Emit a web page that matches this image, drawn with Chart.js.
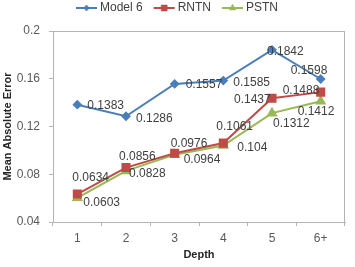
<!DOCTYPE html>
<html>
<head>
<meta charset="utf-8">
<script src="https://cdn.jsdelivr.net/npm/chart.js@4/dist/chart.umd.min.js"></script>
<style>
html,body{margin:0;padding:0;background:#fff;}
#wrap{width:355px;height:267px;}
</style>
</head>
<body>
<div id="wrap"><canvas id="c" width="355" height="267"></canvas></div>
<script>
const categories = ['1', '2', '3', '4', '5', '6+'];
const model6 = [0.1383, 0.1286, 0.1557, 0.1585, 0.1842, 0.1598];
const rntn = [0.0634, 0.0856, 0.0976, 0.1061, 0.1437, 0.1488];
const pstn = [0.0603, 0.0828, 0.0964, 0.104, 0.1312, 0.1412];
const yTicks = [0.04, 0.08, 0.12, 0.16, 0.2];

const FONT = '"Liberation Sans", Arial, sans-serif';
const BLUE = '#4A7EBB', RED = '#BE4B48', GREEN = '#98B954';

// label offsets relative to each point (left-aligned text)
const model6Off = [[10,1],[10,2],[11,1],[10,2],[-5,2],[-30,-8]];
const rntnOff = [[-5,-16],[-7,-11],[-4,-10],[-7,-16],[-38,1],[-38,-1]];
const pstnOff = [[6,5],[3,3],[9,5],[14,2],[1,11],[-23,10]];

const labelPlugin = {
  id: 'pointLabels',
  afterDatasetsDraw(chart) {
    const ctx = chart.ctx;
    ctx.save();
    ctx.font = '12px ' + FONT;
    ctx.fillStyle = '#404040';
    ctx.textAlign = 'left';
    ctx.textBaseline = 'middle';
    chart.data.datasets.forEach((ds, i) => {
      const meta = chart.getDatasetMeta(i);
      meta.data.forEach((el, j) => {
        const off = ds.labelOffsets[j];
        ctx.fillText(String(ds.data[j]), el.x + off[0], el.y + off[1]);
      });
    });
    ctx.restore();
  }
};

const framePlugin = {
  id: 'frame',
  beforeDatasetsDraw(chart) {
    const a = chart.chartArea, ctx = chart.ctx;
    ctx.save();
    ctx.strokeStyle = '#B4B4B4';
    ctx.lineWidth = 1;
    ctx.strokeRect(Math.round(a.left) + 0.5, Math.round(a.top) + 0.5,
                   Math.round(a.right - a.left) - 1, Math.round(a.bottom - a.top));
    ctx.restore();
  }
};

const legendPlugin = {
  id: 'customLegend',
  afterDraw(chart) {
    const ctx = chart.ctx;
    ctx.save();
    ctx.font = '12px ' + FONT;
    ctx.textBaseline = 'middle';
    ctx.textAlign = 'left';
    let x = 76;
    const y = 8;
    chart.data.datasets.forEach(ds => {
      ctx.strokeStyle = ds.borderColor;
      ctx.lineWidth = 2;
      ctx.beginPath();
      ctx.moveTo(x, y);
      ctx.lineTo(x + 21, y);
      ctx.stroke();
      ctx.fillStyle = ds.borderColor;
      ctx.strokeStyle = ds.borderColor;
      ctx.lineWidth = 0.5;
      Chart.helpers.drawPoint(ctx, {pointStyle: ds.pointStyle, radius: ds.pointRadius * 0.85, borderWidth: 0.5, rotation: 0},
        x + 10.5, y);
      ctx.fillStyle = '#404040';
      ctx.fillText(ds.label, x + 24, y);
      x += 24 + ctx.measureText(ds.label).width + 11;
    });
    ctx.restore();
  }
};

new Chart(document.getElementById('c'), {
  type: 'line',
  data: {
    labels: categories,
    datasets: [
      {label: 'Model 6', data: model6, borderColor: BLUE, backgroundColor: BLUE,
       pointStyle: 'rectRot', pointRadius: 3.5, borderWidth: 2, labelOffsets: model6Off},
      {label: 'RNTN', data: rntn, borderColor: RED, backgroundColor: RED,
       pointStyle: 'rect', pointRadius: 5, borderWidth: 2, labelOffsets: rntnOff},
      {label: 'PSTN', data: pstn, borderColor: GREEN, backgroundColor: GREEN,
       pointStyle: 'triangle', pointRadius: 4.5, borderWidth: 2, labelOffsets: pstnOff}
    ]
  },
  options: {
    responsive: false,
    animation: false,
    devicePixelRatio: 1,
    layout: {padding: {top: 31, right: 10, left: 0, bottom: 0}},
    elements: {line: {tension: 0}, point: {borderWidth: 0.5}},
    plugins: {legend: {display: false}, tooltip: {enabled: false}},
    scales: {
      x: {
        offset: true,
        grid: {drawOnChartArea: false, drawTicks: true, tickLength: 4, color: '#B4B4B4', offset: true},
        border: {display: true, color: '#B4B4B4'},
        ticks: {font: {family: FONT, size: 12}, color: '#595959', padding: 5, maxRotation: 0},
        title: {display: true, text: 'Depth', font: {family: FONT, size: 11, weight: 'bold'},
                color: '#262626', padding: {top: 0, bottom: 5}},
        afterFit(s) { s.height = 45; }
      },
      y: {
        min: 0.04, max: 0.2,
        afterBuildTicks(s) { s.ticks = yTicks.map(v => ({value: v})); },
        grid: {drawOnChartArea: false, drawTicks: true, tickLength: 4, color: '#B4B4B4'},
        border: {display: true, color: '#B4B4B4'},
        ticks: {font: {family: FONT, size: 12}, color: '#595959', padding: 9,
                callback: v => String(Math.round(v * 100) / 100)},
        title: {display: true, text: 'Mean Absolute Error', font: {family: FONT, size: 11, weight: 'bold'},
                color: '#262626', padding: {top: 1, bottom: 0}},
        afterFit(s) { s.width = 53; }
      }
    }
  },
  plugins: [framePlugin, labelPlugin, legendPlugin]
});
</script>
</body>
</html>
